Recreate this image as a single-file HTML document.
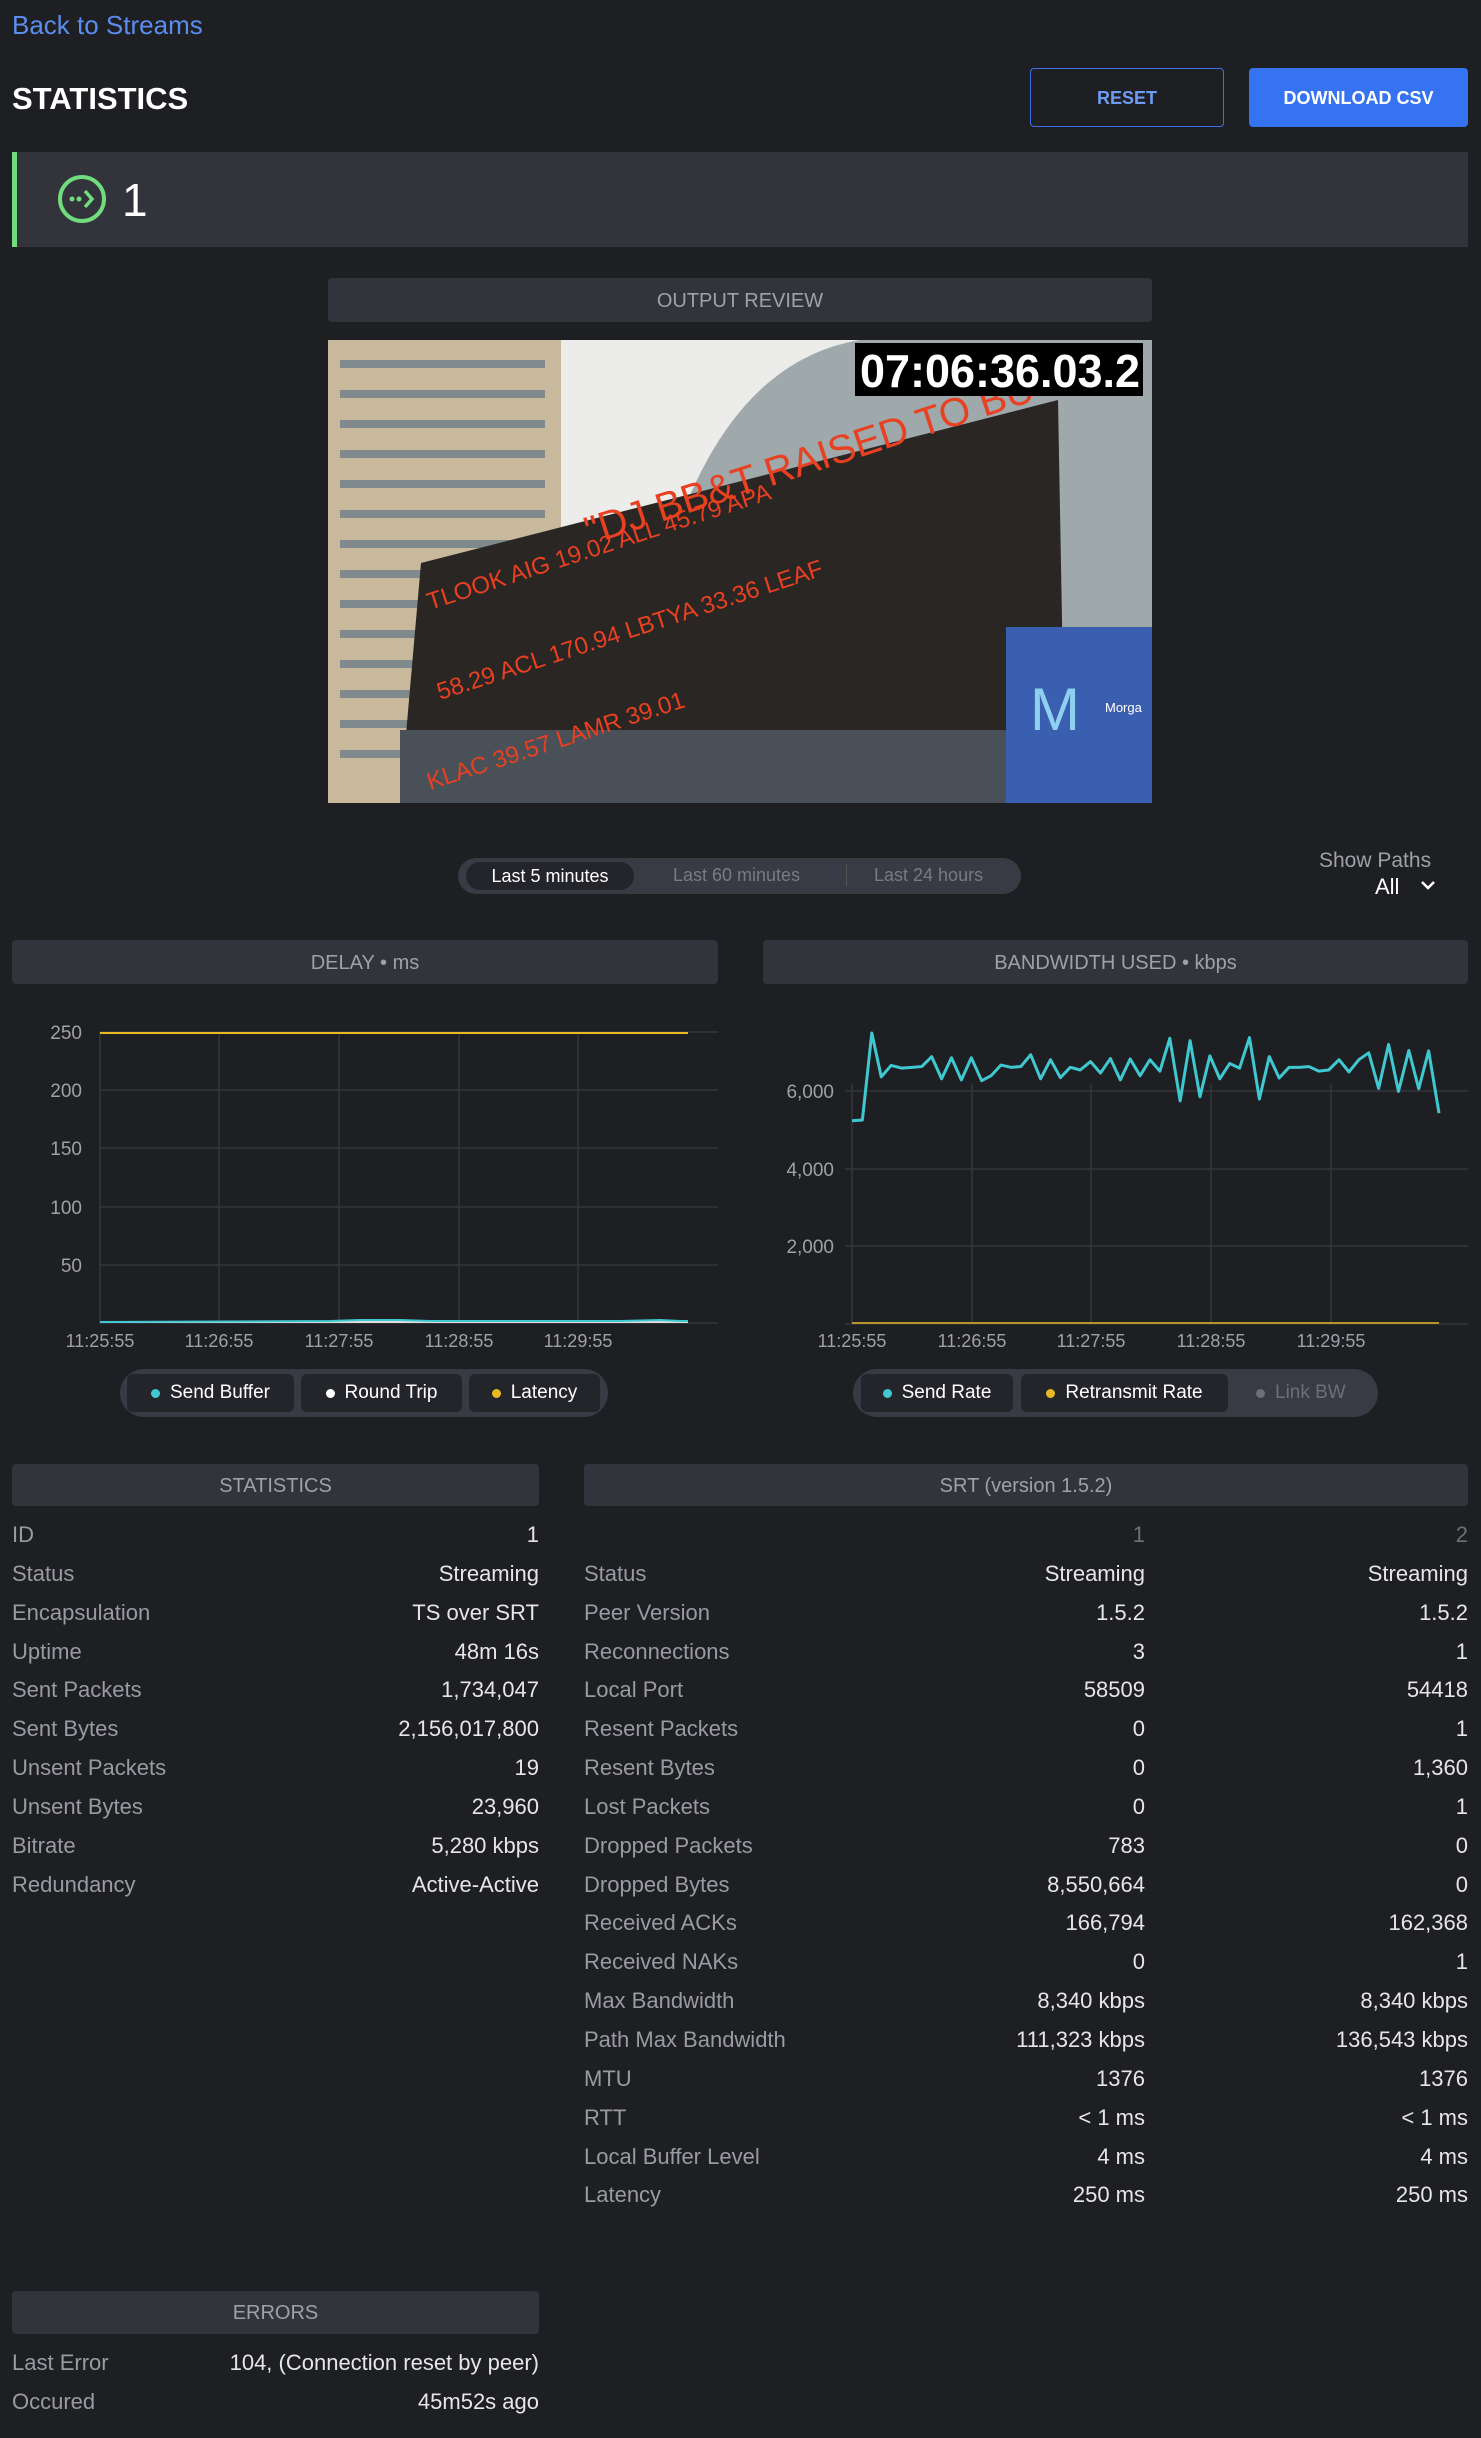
<!DOCTYPE html>
<html><head><meta charset="utf-8"><style>
*{margin:0;padding:0;box-sizing:border-box}
body{width:1481px;height:2438px;background:#1e1f22;font-family:"Liberation Sans",sans-serif;position:relative;overflow:hidden;color:#e6e6e6}
.a{position:absolute}
.hdr{position:absolute;background:#33333c;border-radius:4px;color:#a0a0a8;font-size:20px;text-align:center}
.rows div{height:38.85px;line-height:30px;font-size:22px;display:flex;justify-content:space-between}
.l{color:#9a9aa2}
.srt div{display:grid;grid-template-columns:1fr 280px 323px}
.srt span{text-align:right}
.srt span:first-child{text-align:left}
.pill{position:absolute;background:#3a3a44;border-radius:24px}
.seg{position:absolute;background:#24252a;border-radius:6px;font-size:19px;color:#fff;display:flex;align-items:center;justify-content:center;gap:10px}
.dot{width:9px;height:9px;border-radius:50%;display:inline-block}
</style></head><body>
<div class="a" style="left:12px;top:10px;font-size:26px;color:#5b8def">Back to Streams</div>
<div class="a" style="left:12px;top:81px;font-size:31px;font-weight:bold;color:#fff">STATISTICS</div>
<div class="a" style="left:1030px;top:68px;width:194px;height:59px;border:1.5px solid #3b72e8;border-radius:4px;color:#6e9bf5;font-size:18px;font-weight:bold;text-align:center;line-height:58px">RESET</div>
<div class="a" style="left:1249px;top:68px;width:219px;height:59px;background:#3673f0;border-radius:4px;color:#fff;font-size:18px;font-weight:bold;text-align:center;line-height:61px">DOWNLOAD CSV</div>
<div class="a" style="left:12px;top:152px;width:1456px;height:95px;background:#33333c;border-left:5px solid #6fdc7d"></div>
<svg class="a" style="left:56px;top:173px" width="52" height="52"><circle cx="26" cy="26" r="22" fill="none" stroke="#6fdc7d" stroke-width="4"/><circle cx="16" cy="26" r="2.5" fill="#6fdc7d"/><circle cx="23" cy="26" r="2.5" fill="#6fdc7d"/><path d="M29 18 L36 26 L29 34" fill="none" stroke="#6fdc7d" stroke-width="3.5"/></svg>
<div class="a" style="left:122px;top:173px;font-size:46px;color:#fff">1</div>

<div class="hdr" style="left:328px;top:278px;width:824px;height:44px;line-height:46px">OUTPUT REVIEW</div>
<svg class="a" style="left:328px;top:340px" width="824" height="463" viewBox="328 340 824 463">
<rect x="328" y="340" width="824" height="463" fill="#c8ccce"/>
<rect x="561" y="340" width="300" height="300" fill="#ececea"/>
<rect x="328" y="340" width="233" height="463" fill="#c9b99c"/>
<g fill="#6f7f8a" opacity="0.8">
<rect x="340" y="360" width="205" height="8"/><rect x="340" y="390" width="205" height="8"/><rect x="340" y="420" width="205" height="8"/><rect x="340" y="450" width="205" height="8"/><rect x="340" y="480" width="205" height="8"/><rect x="340" y="510" width="205" height="8"/><rect x="340" y="540" width="205" height="8"/><rect x="340" y="570" width="205" height="8"/><rect x="340" y="600" width="205" height="8"/><rect x="340" y="630" width="205" height="8"/><rect x="340" y="660" width="205" height="8"/><rect x="340" y="690" width="205" height="8"/><rect x="340" y="720" width="205" height="8"/><rect x="340" y="750" width="205" height="8"/></g>
<path d="M680 520 Q740 360 860 340 L1152 340 L1152 803 L680 803Z" fill="#9fa8ab"/>
<path d="M421 563 L1058 400 L1064 730 L400 803Z" fill="#2a2624"/>
<rect x="400" y="730" width="610" height="73" fill="#4a5058"/>
<g fill="#e84020" font-family="Liberation Sans,sans-serif">
<text x="590" y="545" font-size="40" transform="rotate(-18 590 545)">"DJ BB&amp;T RAISED TO BUY</text>
<text x="430" y="610" font-size="24" transform="rotate(-18 430 610)">TLOOK     AIG    19.02      ALL   45.79     APA</text>
<text x="440" y="700" font-size="24" transform="rotate(-18 440 700)">58.29   ACL   170.94    LBTYA   33.36   LEAF</text>
<text x="430" y="790" font-size="24" transform="rotate(-18 430 790)">KLAC    39.57    LAMR   39.01</text></g>
<rect x="1006" y="627" width="146" height="176" fill="#3a5fb0"/>
<text x="1030" y="730" font-size="60" fill="#8fd0f0">M</text>
<text x="1105" y="712" font-size="13" fill="#fff">Morga</text>
<rect x="855" y="343" width="288" height="53" fill="#000"/>
<text x="860" y="387" font-family="Liberation Sans,sans-serif" font-size="46" font-weight="bold" fill="#fff" textLength="280" lengthAdjust="spacingAndGlyphs">07:06:36.03.2</text>
</svg>

<div class="pill" style="left:458px;top:858px;width:563px;height:36px"></div>
<div class="seg" style="left:466px;top:862px;width:168px;height:28px;border-radius:14px;font-size:18px">Last 5 minutes</div>
<div class="a" style="left:673px;top:865px;font-size:18px;color:#7a7a84">Last 60 minutes</div>
<div class="a" style="left:846px;top:864px;width:1px;height:22px;background:#555"></div>
<div class="a" style="left:874px;top:865px;font-size:18px;color:#7a7a84">Last 24 hours</div>
<div class="a" style="left:1319px;top:849px;font-size:21px;color:#a0a0a8">Show Paths</div>
<div class="a" style="left:1375px;top:874px;font-size:22px;color:#fff">All</div>
<svg class="a" style="left:1420px;top:880px" width="16" height="12"><path d="M2 2 L8 8 L14 2" fill="none" stroke="#fff" stroke-width="2.5"/></svg>

<div class="hdr" style="left:12px;top:940px;width:706px;height:44px;line-height:46px">DELAY • ms</div>
<div class="hdr" style="left:763px;top:940px;width:705px;height:44px;line-height:46px">BANDWIDTH USED • kbps</div>

<svg class="a" style="left:0;top:0" width="1481" height="1440">
<g stroke="#35363b" stroke-width="1.5">
<line x1="99" y1="1032" x2="718" y2="1032"/><line x1="99" y1="1090" x2="718" y2="1090"/><line x1="99" y1="1148" x2="718" y2="1148"/><line x1="99" y1="1207" x2="718" y2="1207"/><line x1="99" y1="1265" x2="718" y2="1265"/><line x1="99" y1="1323" x2="718" y2="1323"/>
<line x1="100" y1="1032" x2="100" y2="1323"/><line x1="219" y1="1032" x2="219" y2="1323"/><line x1="339" y1="1032" x2="339" y2="1323"/><line x1="459" y1="1032" x2="459" y2="1323"/><line x1="578" y1="1032" x2="578" y2="1323"/>
<line x1="845" y1="1091" x2="1468" y2="1091"/><line x1="845" y1="1169" x2="1468" y2="1169"/><line x1="845" y1="1246" x2="1468" y2="1246"/><line x1="845" y1="1324" x2="1468" y2="1324"/>
<line x1="852" y1="1084" x2="852" y2="1324"/><line x1="972" y1="1084" x2="972" y2="1324"/><line x1="1091" y1="1084" x2="1091" y2="1324"/><line x1="1211" y1="1084" x2="1211" y2="1324"/><line x1="1331" y1="1084" x2="1331" y2="1324"/>
</g>
<g fill="#a0a0a8" font-size="19" text-anchor="end">
<text x="82" y="1039">250</text><text x="82" y="1097">200</text><text x="82" y="1155">150</text><text x="82" y="1214">100</text><text x="82" y="1272">50</text>
<text x="834" y="1098">6,000</text><text x="834" y="1176">4,000</text><text x="834" y="1253">2,000</text></g>
<g fill="#a0a0a8" font-size="18" text-anchor="middle">
<text x="100" y="1347">11:25:55</text><text x="219" y="1347">11:26:55</text><text x="339" y="1347">11:27:55</text><text x="459" y="1347">11:28:55</text><text x="578" y="1347">11:29:55</text>
<text x="852" y="1347">11:25:55</text><text x="972" y="1347">11:26:55</text><text x="1091" y="1347">11:27:55</text><text x="1211" y="1347">11:28:55</text><text x="1331" y="1347">11:29:55</text></g>
<line x1="100" y1="1033" x2="688" y2="1033" stroke="#e8b923" stroke-width="2"/>
<line x1="100" y1="1322" x2="688" y2="1322" stroke="#ddd" stroke-width="2"/>
<polyline points="100,1322 330,1321 360,1320 400,1320 430,1321 500,1321 620,1321 660,1320 680,1321 688,1321" fill="none" stroke="#3fc8d0" stroke-width="2"/>
<line x1="852" y1="1323" x2="1439" y2="1323" stroke="#b8952a" stroke-width="2"/>
<g transform="translate(852,1091) scale(0.4715,0.3818) translate(-235,-712)">
<polyline vector-effect="non-scaling-stroke" fill="none" stroke="#3fc8d0" stroke-width="3" stroke-linejoin="round" points="235,790 257,788 277,560 297,675 318,645 340,652 362,650 383,648 404,622 425,680 446,625 467,683 488,625 510,685 530,672 551,644 572,650 593,648 614,617 635,680 656,630 677,677 698,650 719,657 741,635 762,665 783,627 804,683 825,628 846,672 867,630 888,660 909,574 931,738 952,580 973,727 994,620 1015,680 1036,640 1057,652 1078,572 1099,733 1120,622 1141,678 1162,650 1183,650 1204,648 1225,660 1246,657 1268,630 1289,662 1310,630 1331,612 1352,705 1373,590 1394,713 1416,606 1437,706 1458,607 1480,770"/></g>
</svg>

<div class="pill" style="left:120px;top:1369px;width:488px;height:48px"></div>
<div class="seg" style="left:127px;top:1374px;width:167px;height:38px"><span class="dot" style="background:#3fc8d0"></span>Send Buffer</div>
<div class="seg" style="left:301px;top:1374px;width:161px;height:38px"><span class="dot" style="background:#fff"></span>Round Trip</div>
<div class="seg" style="left:469px;top:1374px;width:131px;height:38px"><span class="dot" style="background:#e8b923"></span>Latency</div>
<div class="pill" style="left:853px;top:1369px;width:525px;height:48px"></div>
<div class="seg" style="left:861px;top:1374px;width:152px;height:38px"><span class="dot" style="background:#3fc8d0"></span>Send Rate</div>
<div class="seg" style="left:1021px;top:1374px;width:207px;height:38px"><span class="dot" style="background:#e8b923"></span>Retransmit Rate</div>
<div class="a" style="left:1256px;top:1382px;font-size:19px;color:#6e6e78;display:flex;align-items:center;gap:10px"><span class="dot" style="background:#6e6e78"></span>Link BW</div>

<div class="hdr" style="left:12px;top:1464px;width:527px;height:42px;line-height:44px">STATISTICS</div>
<div class="hdr" style="left:584px;top:1464px;width:884px;height:42px;line-height:44px">SRT (version 1.5.2)</div>
<div class="a rows" style="left:12px;top:1520px;width:527px">
<div><span class="l">ID</span><span>1</span></div>
<div><span class="l">Status</span><span>Streaming</span></div>
<div><span class="l">Encapsulation</span><span>TS over SRT</span></div>
<div><span class="l">Uptime</span><span>48m 16s</span></div>
<div><span class="l">Sent Packets</span><span>1,734,047</span></div>
<div><span class="l">Sent Bytes</span><span>2,156,017,800</span></div>
<div><span class="l">Unsent Packets</span><span>19</span></div>
<div><span class="l">Unsent Bytes</span><span>23,960</span></div>
<div><span class="l">Bitrate</span><span>5,280 kbps</span></div>
<div><span class="l">Redundancy</span><span>Active-Active</span></div>
</div>
<div class="a rows srt" style="left:584px;top:1520px;width:884px">
<div><span></span><span class="l" style="color:#6e6e78">1</span><span class="l" style="color:#6e6e78">2</span></div>
<div><span class="l">Status</span><span>Streaming</span><span>Streaming</span></div>
<div><span class="l">Peer Version</span><span>1.5.2</span><span>1.5.2</span></div>
<div><span class="l">Reconnections</span><span>3</span><span>1</span></div>
<div><span class="l">Local Port</span><span>58509</span><span>54418</span></div>
<div><span class="l">Resent Packets</span><span>0</span><span>1</span></div>
<div><span class="l">Resent Bytes</span><span>0</span><span>1,360</span></div>
<div><span class="l">Lost Packets</span><span>0</span><span>1</span></div>
<div><span class="l">Dropped Packets</span><span>783</span><span>0</span></div>
<div><span class="l">Dropped Bytes</span><span>8,550,664</span><span>0</span></div>
<div><span class="l">Received ACKs</span><span>166,794</span><span>162,368</span></div>
<div><span class="l">Received NAKs</span><span>0</span><span>1</span></div>
<div><span class="l">Max Bandwidth</span><span>8,340 kbps</span><span>8,340 kbps</span></div>
<div><span class="l">Path Max Bandwidth</span><span>111,323 kbps</span><span>136,543 kbps</span></div>
<div><span class="l">MTU</span><span>1376</span><span>1376</span></div>
<div><span class="l">RTT</span><span>&lt; 1 ms</span><span>&lt; 1 ms</span></div>
<div><span class="l">Local Buffer Level</span><span>4 ms</span><span>4 ms</span></div>
<div><span class="l">Latency</span><span>250 ms</span><span>250 ms</span></div>
</div>

<div class="hdr" style="left:12px;top:2291px;width:527px;height:43px;line-height:45px">ERRORS</div>
<div class="a rows" style="left:12px;top:2348px;width:527px">
<div><span class="l">Last Error</span><span>104, (Connection reset by peer)</span></div>
<div><span class="l">Occured</span><span>45m52s ago</span></div>
</div>
</body></html>
